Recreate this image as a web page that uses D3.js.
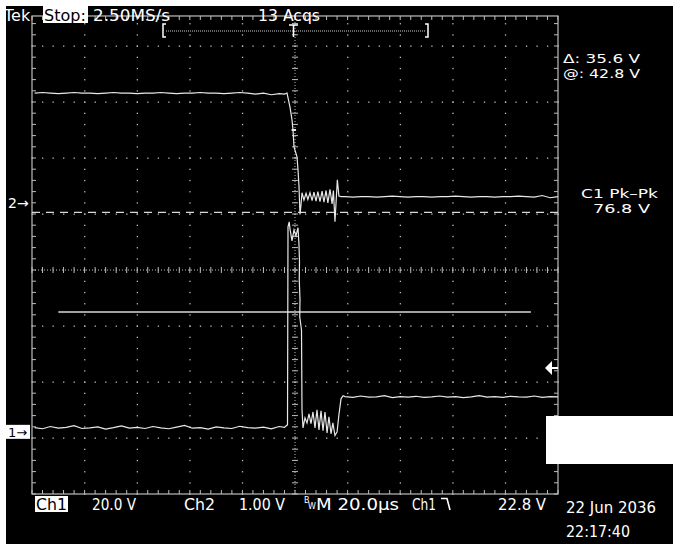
<!DOCTYPE html>
<html><head><meta charset="utf-8">
<script src="https://cdn.jsdelivr.net/npm/d3@7"></script>
<style>
html,body{margin:0;padding:0;background:#000;}
svg{display:block;}
text{font-family:"DejaVu Sans",sans-serif;fill:#fff;}
</style></head><body>
<svg id="c" width="673" height="544"></svg>
<script>
// ---------- data (time in µs, voltage in V) ----------
const ch1Time = [-99,-96,-93,-90,-87,-84,-81,-78,-75,-72,-69,-66,-63,-60,-57,-54,-51,-48,-45,-42,-39,-36,-33,-30,-27,-24,-21,-18,-15,-12,-9,-6,-4,
  -3.42,-2.85,-2.66,-2.2,-1.9,-1.14,-0.38,0.38,1.14,1.52,1.71,1.62,1.9,1.8,2.47,2.66,
  3.04,3.8,4.56,5.32,6.08,6.84,7.6,8.36,9.12,9.89,10.65,11.4,12.2,12.9,13.7,14.4,15.2,16.0,16.7,17.5,18.3,
  19,22,25,28,31,34,37,40,43,46,49,52,55,58,61,64,67,70,73,76,79,82,85,88,91,94,97,100];
const ch1Volt = [1.5,1.1,1.9,1.3,1.6,2.2,1.2,1.4,1.8,1.0,1.5,2.1,1.3,1.6,1.2,1.9,1.4,1.1,1.7,2.3,1.3,1.5,1.0,1.8,1.4,1.2,2.0,1.5,1.3,1.7,1.1,1.9,1.6,
  2.1,2.5,73.2,75.0,72.5,68.2,72.1,70.0,72.9,66.8,60.7,54.3,47.1,41.1,36.4,7.9,
  1.4,5.0,3.2,6.4,2.9,7.1,1.4,7.9,0.7,7.5,0.4,7.1,-0.4,5.4,-0.7,3.2,-1.3,0,6.1,11.8,12.9,
  12.6,12.3,12.8,12.4,12.5,12.9,12.2,12.6,12.4,12.7,12.3,12.5,12.8,12.4,12.6,12.2,12.5,12.9,12.4,12.6,12.3,12.7,12.5,12.4,12.8,12.3,12.6,12.5];

const ch2Time = [-99,-96,-93,-90,-87,-84,-81,-78,-75,-72,-69,-66,-63,-60,-57,-54,-51,-48,-45,-42,-39,-36,-33,-30,-27,-24,-21,-18,-15,-12,-9,-6,-4,
  -3.04,-1.9,-1.14,-0.76,-0.38,0.76,1.14,1.52,1.9,2.28,2.66,
  3.4,4.2,4.9,5.7,6.5,7.2,8.0,8.7,9.5,10.3,11.0,11.8,12.5,13.3,14.1,14.6,15.2,16.1,16.7,17.5,18.2,
  19,22,25,28,31,34,37,40,43,46,49,52,55,58,61,64,67,70,73,76,79,82,85,88,91,94,97,100];
const ch2Volt = [1.96,1.97,1.96,1.95,1.96,1.97,1.96,1.96,1.95,1.96,1.97,1.96,1.96,1.95,1.96,1.96,1.97,1.96,1.95,1.96,1.96,1.97,1.96,1.96,1.95,1.96,1.97,1.96,1.94,1.96,1.93,1.95,1.94,
  1.96,1.71,1.48,1.30,1.00,0.82,0.59,0.29,-0.21,-0.04,0.18,
  0.05,0.17,0.06,0.18,0.04,0.19,0.03,0.20,0.02,0.21,0.01,0.22,0.0,0.24,-0.02,0.22,-0.34,0.41,0.12,0.11,0.11,
  0.11,0.10,0.11,0.11,0.10,0.11,0.12,0.11,0.10,0.11,0.11,0.10,0.11,0.11,0.12,0.11,0.10,0.11,0.11,0.10,0.11,0.11,0.12,0.11,0.10,0.13,0.09,0.11];

// channel settings
const ch1VoltsPerDiv = 20.0, ch1PositionDiv = -2.89;
const ch2VoltsPerDiv = 1.0,  ch2PositionDiv = 1.20;
const cursorAt = 42.8, cursorDelta = 35.6;      // ch1 horizontal bar cursors
const triggerLevel = 22.8;                      // ch1 trigger
const timePerDiv = 20;                          // µs

// labels
const headerLabels = ["Tek", "Stop:", "2.50MS/s", "13 Acqs"];
const cursorLabels = ["\u0394: 35.6 V", "@: 42.8 V"];
const measLabels = ["C1 Pk\u2013Pk", "76.8 V"];
const footerLabels = ["Ch1", "20.0 V", "Ch2", "1.00 V", "M 20.0\u00b5s", "Ch1", "22.8 V"];
const dateLabels = ["22 Jun 2036", "22:17:40"];

// ---------- drawing ----------
const svg = d3.select("#c");
const W = 673, H = 544;
const x = d3.scaleLinear().domain([-5 * timePerDiv, 5 * timePerDiv]).range([32, 558]);
const yDiv = d3.scaleLinear().domain([-4, 4]).range([494, 46]);
const topDiv = 4.536;
const grid = "#bdbdbd";

svg.append("rect").attr("width", W).attr("height", H).attr("fill", "#000");
svg.append("rect").attr("x", 0).attr("y", 0).attr("width", 6).attr("height", H).attr("fill", "#fff");

const g = svg.append("g");
const minorT = d3.range(-100, 100.001, timePerDiv / 5);
const minorV = d3.range(-4, topDiv, 0.2);

// gridline dots
[-80, -60, -40, -20, 20, 40, 60, 80].forEach(t => {
  minorV.forEach(v => g.append("rect").attr("x", x(t) - 0.5).attr("y", yDiv(v) - 0.5).attr("width", 1.3).attr("height", 1.3).attr("fill", grid));
});
[-3, -2, -1, 1, 2, 3, 4].forEach(v => {
  minorT.forEach(t => g.append("rect").attr("x", x(t) - 0.5).attr("y", yDiv(v) - 0.5).attr("width", 1.3).attr("height", 1.3).attr("fill", grid));
});
// center crosshair
g.append("line").attr("x1", x(-100)).attr("x2", x(100)).attr("y1", yDiv(0)).attr("y2", yDiv(0))
  .attr("stroke", grid).attr("stroke-dasharray", "1,2");
g.append("line").attr("x1", x(0)).attr("x2", x(0)).attr("y1", yDiv(topDiv)).attr("y2", yDiv(-4))
  .attr("stroke", grid).attr("stroke-dasharray", "1,2");
minorT.forEach(t => g.append("line").attr("x1", x(t)).attr("x2", x(t)).attr("y1", yDiv(0) - 3).attr("y2", yDiv(0) + 3).attr("stroke", grid));
minorV.forEach(v => g.append("line").attr("x1", x(0) - 3).attr("x2", x(0) + 3).attr("y1", yDiv(v)).attr("y2", yDiv(v)).attr("stroke", grid));
// border + ticks
g.append("rect").attr("x", x(-100)).attr("y", yDiv(topDiv)).attr("width", x(100) - x(-100)).attr("height", yDiv(-4) - yDiv(topDiv))
  .attr("fill", "none").attr("stroke", grid).attr("stroke-width", 1.2);
minorT.forEach(t => {
  g.append("line").attr("x1", x(t)).attr("x2", x(t)).attr("y1", yDiv(topDiv)).attr("y2", yDiv(topDiv) + 4).attr("stroke", grid);
  g.append("line").attr("x1", x(t)).attr("x2", x(t)).attr("y1", yDiv(-4)).attr("y2", yDiv(-4) - 4).attr("stroke", grid);
});
minorV.forEach(v => {
  g.append("line").attr("x1", x(-100)).attr("x2", x(-100) + 4).attr("y1", yDiv(v)).attr("y2", yDiv(v)).attr("stroke", grid);
  g.append("line").attr("x1", x(100)).attr("x2", x(100) - 4).attr("y1", yDiv(v)).attr("y2", yDiv(v)).attr("stroke", grid);
});

const y1 = v => yDiv(v / ch1VoltsPerDiv + ch1PositionDiv);
const y2 = v => yDiv(v / ch2VoltsPerDiv + ch2PositionDiv);

// cursors
svg.append("line").attr("x1", x(-100)).attr("x2", x(100)).attr("y1", y1(cursorAt + cursorDelta)).attr("y2", y1(cursorAt + cursorDelta))
  .attr("stroke", "#d8d8d8").attr("stroke-width", 1.3).attr("stroke-dasharray", "8,6");
svg.append("line").attr("x1", x(-90)).attr("x2", x(89.7)).attr("y1", y1(cursorAt)).attr("y2", y1(cursorAt))
  .attr("stroke", "#d8d8d8").attr("stroke-width", 1.3);

// traces
const ch1 = ch1Time.map((t, i) => ({t, v: ch1Volt[i]}));
const ch2 = ch2Time.map((t, i) => ({t, v: ch2Volt[i]}));
svg.append("path").datum(ch2).attr("fill", "none").attr("stroke", "#e8e8e8").attr("stroke-width", 1.2)
  .attr("d", d3.line().x(d => x(d.t)).y(d => y2(d.v)));
svg.append("path").datum(ch1).attr("fill", "none").attr("stroke", "#e8e8e8").attr("stroke-width", 1.2)
  .attr("d", d3.line().x(d => x(d.t)).y(d => y1(d.v)));
// small marker on ch2 edge
svg.append("line").attr("x1", x(-1.3)).attr("x2", x(0.4)).attr("y1", y2(1.3)).attr("y2", y2(1.3)).attr("stroke", "#e8e8e8").attr("stroke-width", 2);

// ground markers
svg.append("text").attr("x", 8).attr("y", y2(0) + 5).attr("font-size", 14).text("2\u2192");
svg.append("rect").attr("x", 0).attr("y", y1(0) - 7).attr("width", 30).attr("height", 14).attr("fill", "#fff");
svg.append("text").attr("x", 8).attr("y", y1(0) + 5).attr("font-size", 13).style("fill", "#000").text("1\u2192");

// trigger level arrow
const ty = y1(triggerLevel);
svg.append("path").attr("d", `M${x(100) - 13},${ty} L${x(100) - 6},${ty - 7} L${x(100) - 6},${ty + 7} Z`).attr("fill", "#fff");
svg.append("line").attr("x1", x(100) - 6).attr("x2", x(100)).attr("y1", ty).attr("y2", ty).attr("stroke", "#fff").attr("stroke-width", 2);

// white block lower right
svg.append("rect").attr("x", 546).attr("y", 416).attr("width", 127).attr("height", 48).attr("fill", "#fff");

// header
svg.append("text").attr("x", 4).attr("y", 21).attr("font-size", 16).text(headerLabels[0]);
svg.append("rect").attr("x", 43).attr("y", 5).attr("width", 45).attr("height", 18).attr("fill", "#fff");
svg.append("text").attr("x", 44).attr("y", 21).attr("font-size", 16).style("fill", "#000").text(headerLabels[1]);
svg.append("text").attr("x", 93).attr("y", 21).attr("font-size", 16).attr("textLength", 77).attr("lengthAdjust", "spacingAndGlyphs").text(headerLabels[2]);
svg.append("text").attr("x", 258).attr("y", 21).attr("font-size", 16).attr("textLength", 62).attr("lengthAdjust", "spacingAndGlyphs").text(headerLabels[3]);
svg.append("rect").attr("x", 0).attr("y", 0).attr("width", W).attr("height", 6).attr("fill", "#fff");
// record bracket
svg.append("path").attr("d", "M166,24 H163 V37 H166 M425,24 H428 V37 H425").attr("fill", "none").attr("stroke", "#fff").attr("stroke-width", 1.5);
svg.append("line").attr("x1", 166).attr("x2", 425).attr("y1", 31).attr("y2", 31).attr("stroke", "#ccc").attr("stroke-dasharray", "1,1");
svg.append("path").attr("d", "M289,25 H298 M293.5,25 V37").attr("fill", "none").attr("stroke", "#fff").attr("stroke-width", 1.5);

// right readouts
svg.append("text").attr("x", 563).attr("y", 63).attr("font-size", 12.5).attr("textLength", 77).attr("lengthAdjust", "spacingAndGlyphs").text(cursorLabels[0]);
svg.append("text").attr("x", 563).attr("y", 78).attr("font-size", 12.5).attr("textLength", 77).attr("lengthAdjust", "spacingAndGlyphs").text(cursorLabels[1]);
svg.append("text").attr("x", 581).attr("y", 198).attr("font-size", 12.5).attr("textLength", 77).attr("lengthAdjust", "spacingAndGlyphs").text(measLabels[0]);
svg.append("text").attr("x", 593).attr("y", 213).attr("font-size", 12.5).attr("textLength", 57).attr("lengthAdjust", "spacingAndGlyphs").text(measLabels[1]);

// footer
const fs = 15, fy = 510;
const ft = (xx, s, len, col) => svg.append("text").attr("x", xx).attr("y", fy).attr("font-size", fs)
  .attr("textLength", len).attr("lengthAdjust", "spacingAndGlyphs").style("fill", col || "#fff").text(s);
svg.append("rect").attr("x", 35).attr("y", 496).attr("width", 33).attr("height", 16).attr("fill", "#fff");
ft(36, footerLabels[0], 31, "#000");
ft(92, footerLabels[1], 44);
ft(184, footerLabels[2], 31);
ft(239, footerLabels[3], 46);
svg.append("text").attr("x", 304).attr("y", 503).attr("font-size", 8).text("B");
svg.append("text").attr("x", 308).attr("y", 509).attr("font-size", 8).text("W");
ft(316, footerLabels[4], 83);
ft(412, footerLabels[5], 24);
svg.append("path").attr("d", "M441,498.5 H447 L450,510").attr("fill", "none").attr("stroke", "#fff").attr("stroke-width", 1.6);
ft(498, footerLabels[6], 48);
svg.append("text").attr("x", 566).attr("y", 513).attr("font-size", 15).attr("textLength", 90).attr("lengthAdjust", "spacingAndGlyphs").text(dateLabels[0]);
svg.append("text").attr("x", 566).attr("y", 537).attr("font-size", 15).attr("textLength", 64).attr("lengthAdjust", "spacingAndGlyphs").text(dateLabels[1]);
</script>
</body></html>
